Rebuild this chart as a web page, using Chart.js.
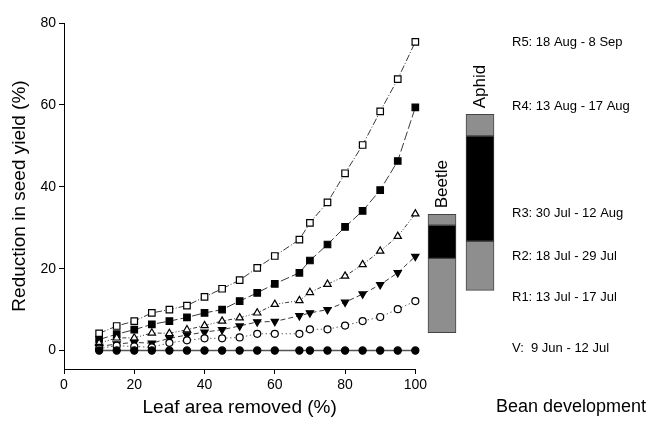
<!DOCTYPE html>
<html>
<head>
<meta charset="utf-8">
<script src="https://cdn.jsdelivr.net/npm/chart.js@4.4.1/dist/chart.umd.min.js"></script>
<style>
  html, body { margin: 0; padding: 0; background: #fff; }
  #wrap { position: relative; width: 652px; height: 423px; }
  #yieldBox { position: absolute; left: 0; top: 0; width: 430px; height: 423px; }
  #stageBox { position: absolute; left: 420px; top: 0; width: 232px; height: 423px; }
</style>
</head>
<body>
<div id="wrap">
  <div id="yieldBox"><canvas id="yieldChart"></canvas></div>
  <div id="stageBox"><canvas id="stageChart"></canvas></div>
</div>
<script>
// leaf area removed (%) on x
const leafRemoved = [10, 15, 20, 25, 30, 35, 40, 45, 50, 55, 60, 67, 70, 75, 80, 85, 90, 95, 100];

// reduction in seed yield (%) per growth stage
const yieldV  = [0, 0, 0, 0, 0, 0, 0, 0, 0, 0, 0, 0, 0, 0, 0, 0, 0, 0, 0];
const yieldR1 = [0.5, 1.2, 1, 0.8, 1.9, 2.5, 3, 3, 3.2, 4.1, 4.1, 4.1, 5.2, 5.2, 6.1, 7.2, 8.2, 10.1, 12.1];
const yieldR2 = [1, 1.6, 2, 1.8, 3, 3.8, 4.5, 5.1, 6, 7, 7.1, 8.5, 9.2, 10, 11.8, 13.8, 16.1, 19, 23];
const yieldR3 = [1.8, 3.1, 3.1, 4.3, 4.2, 5.1, 6.1, 7.2, 8, 9.2, 11.3, 12.2, 14.2, 16.2, 18.2, 21, 24.3, 27.9, 33.4];
const yieldR4 = [2.7, 4, 5.1, 6.4, 7.2, 8.1, 9.2, 10, 12.1, 14.1, 16.3, 19, 22, 25.9, 30.2, 34.1, 39.2, 46.3, 59.4];
const yieldR5 = [4.2, 6, 7.2, 9.2, 10, 11, 13.1, 15.1, 17.2, 20.2, 23.1, 27.1, 31.2, 36.2, 43.3, 50.2, 58.4, 66.3, 75.4];

// insect feeding windows, drawn against the same yield axis
const insects = ["Beetle", "Aphid"];
const lowerGray = [[4.4, 22.5], [14.7, 26.7]];
const blackBand = [[22.5, 30.6], [26.7, 52.4]];
const upperGray = [[30.6, 33.3], [52.4, 57.7]];

// bean development stages, placed at the level of each curve end
const stageLabels = ["V:  9 Jun - 12 Jul", "R1: 13 Jul - 17 Jul", "R2: 18 Jul - 29 Jul",
  "R3: 30 Jul - 12 Aug", "R4: 13 Aug - 17 Aug", "R5: 18 Aug - 8 Sep"];
const stageLevels = [0.5, 13, 23, 33.4, 59.6, 75.2];

const FONT = "'Liberation Sans', Arial, sans-serif";
Chart.defaults.font.family = FONT;
Chart.defaults.color = "#000";

function series(label, values, opts) {
  return Object.assign({
    label,
    data: leafRemoved.map((x, i) => ({ x, y: values[i] })),
    borderColor: "#3a3a3a",
    borderWidth: 1,
    pointBorderColor: "#000",
    pointBorderWidth: 1.2,
    pointBackgroundColor: "#fff",
    tension: 0,
    clip: false,
  }, opts);
}

const datasets = [
  series("V", yieldV, { pointStyle: "circle", pointRadius: 3.6, pointBackgroundColor: "#000", borderColor: "#555", borderWidth: 1.5 }),
  series("R1", yieldR1, { pointStyle: "circle", pointRadius: 3.5, borderDash: [1.5, 2.5], borderColor: "#666" }),
  series("R2", yieldR2, { pointStyle: "triangle", pointRadius: 4.2, pointRotation: 180, pointBackgroundColor: "#000", borderDash: [5, 3] }),
  series("R3", yieldR3, { pointStyle: "triangle", pointRadius: 4.2, borderDash: [4, 2, 1, 2, 1, 2] }),
  series("R4", yieldR4, { pointStyle: "rect", pointRadius: 4.6, pointBackgroundColor: "#000", borderDash: [9, 3] }),
  series("R5", yieldR5, { pointStyle: "rect", pointRadius: 4.6, borderDash: [7, 2, 1, 2] }),
];

new Chart(document.getElementById("yieldChart"), {
  type: "line",
  data: { datasets },
  options: {
    responsive: true,
    maintainAspectRatio: false,
    animation: false,
    layout: { padding: { left: 6, top: 23, right: 13, bottom: 2 } },
    plugins: { legend: { display: false }, tooltip: { enabled: false } },
    scales: {
      x: {
        type: "linear",
        min: 0,
        max: 100,
        ticks: { stepSize: 20, font: { size: 14 }, padding: 3, color: "#000" },
        grid: { drawOnChartArea: false, tickLength: 5, color: "#000" },
        border: { color: "#000", width: 1 },
        title: { display: true, text: "Leaf area removed (%)", font: { size: 19 }, padding: { top: 2, bottom: 2 } },
        afterFit: (s) => { s.height = 52; },
      },
      y: {
        min: -4.5,
        max: 80,
        ticks: { stepSize: 20, font: { size: 14 }, padding: 3, color: "#000" },
        afterBuildTicks: (s) => { s.ticks = s.ticks.filter((t) => t.value >= 0 && t.value % 20 === 0); },
        grid: { drawOnChartArea: false, tickLength: 5, color: "#000" },
        border: { color: "#000", width: 1 },
        title: { display: true, text: "Reduction in seed yield (%)", font: { size: 19 }, padding: { top: 2, bottom: 2 } },
        afterFit: (s) => { s.width = 58; },
      },
    },
  },
});

const stageText = {
  id: "stageText",
  afterDatasetsDraw(chart) {
    const { ctx, chartArea, scales: { y } } = chart;
    ctx.save();
    ctx.fillStyle = "#000";
    ctx.font = `13px ${FONT}`;
    ctx.textAlign = "left";
    ctx.textBaseline = "middle";
    stageLabels.forEach((t, i) => {
      ctx.fillText(t, chartArea.right + 13, y.getPixelForValue(stageLevels[i]));
    });

    // insect names, rotated, just above each bar
    ctx.font = `17px ${FONT}`;
    chart.getDatasetMeta(2).data.forEach((bar, i) => {
      ctx.save();
      ctx.translate(bar.x, bar.y - 6);
      ctx.rotate(-Math.PI / 2);
      ctx.fillText(insects[i], 0, 0);
      ctx.restore();
    });

    ctx.font = `18px ${FONT}`;
    ctx.textAlign = "center";
    ctx.fillText("Bean development", chartArea.right + 72, 407);
    ctx.restore();
  },
};

const barStyle = { borderColor: "#444", borderWidth: 1, borderSkipped: false, barThickness: 28 };

new Chart(document.getElementById("stageChart"), {
  type: "bar",
  data: {
    labels: insects,
    datasets: [
      Object.assign({ label: "lower", data: lowerGray, backgroundColor: "#8e8e8e" }, barStyle),
      Object.assign({ label: "peak", data: blackBand, backgroundColor: "#000" }, barStyle),
      Object.assign({ label: "upper", data: upperGray, backgroundColor: "#8e8e8e" }, barStyle),
    ],
  },
  options: {
    responsive: true,
    maintainAspectRatio: false,
    animation: false,
    layout: { padding: { left: 3, right: 153, top: 23, bottom: 54 } },
    plugins: { legend: { display: false }, tooltip: { enabled: false } },
    datasets: { bar: { grouped: false } },
    scales: {
      x: { display: false },
      y: { display: false, min: -4.5, max: 80 },
    },
  },
  plugins: [stageText],
});
</script>
</body>
</html>
